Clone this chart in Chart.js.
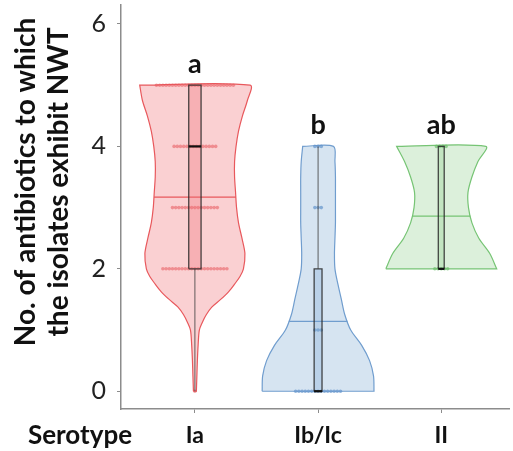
<!DOCTYPE html>
<html>
<head>
<meta charset="utf-8">
<script src="https://cdn.jsdelivr.net/npm/chart.js@4.4.1/dist/chart.umd.min.js"></script>
<style>
html,body{margin:0;padding:0;background:#fff;}
#wrap{width:513px;height:451px;position:relative;}
</style>
</head>
<body>
<div id="wrap"><canvas id="chart"></canvas></div>
<script>
const serotypes = ['Ia', 'Ib/Ic', 'II'];
const sigLetters = ['a', 'b', 'ab'];
const yTicks = [0, 2, 4, 6];

// violin outlines: half width (category units) at each level
const iaLevels = [0, 0.25, 0.5, 0.75, 1, 1.125, 1.25, 1.375, 1.5, 1.625, 1.75, 1.875, 2, 2.25, 2.5, 2.75, 3, 3.25, 3.5, 3.75, 4, 4.25, 4.5, 4.75, 5];
const iaHalfWidth = [0.012, 0.016, 0.02, 0.026, 0.036, 0.06, 0.092, 0.137, 0.209, 0.273, 0.322, 0.366, 0.394, 0.406, 0.382, 0.354, 0.338, 0.33, 0.322, 0.322, 0.334, 0.354, 0.386, 0.426, 0.448];
const ibLevels = [0, 0.25, 0.5, 0.75, 1, 1.25, 1.5, 1.75, 2, 2.25, 2.5, 2.75, 3, 3.25, 3.5, 3.75, 4];
const ibHalfWidth = [0.454, 0.45, 0.418, 0.354, 0.265, 0.217, 0.189, 0.161, 0.137, 0.133, 0.137, 0.141, 0.141, 0.141, 0.141, 0.137, 0.125];
const iiLevels = [2, 2.25, 2.5, 2.75, 3, 3.25, 3.5, 3.75, 4];
const iiHalfWidth = [0.45, 0.394, 0.305, 0.249, 0.221, 0.217, 0.249, 0.297, 0.362];

// box plot summary per serotype
const boxMin = [0, 0, 2];
const boxQ1 = [2, 0, 2];
const boxMedian = [4, 0, 2];
const boxQ3 = [5, 2, 4];
const boxMax = [5, 4, 4];
const groupMean = [3.17, 1.14, 2.86];

// individual isolates: value and how many isolates sit at it
const iaDotValues = [5, 4, 3, 2, 0];
const iaDotCounts = [25, 14, 15, 21, 1];
const ibDotValues = [4, 3, 1, 0];
const ibDotCounts = [3, 3, 3, 15];
const iiDotValues = [4, 2];
const iiDotCounts = [4, 5];

// styles
const fillColors = ['rgba(240,110,115,0.32)', 'rgba(120,165,210,0.30)', 'rgba(130,200,125,0.28)'];
const edgeColors = ['rgb(232,88,92)', 'rgb(112,157,206)', 'rgb(118,196,116)'];
const dotColors = ['rgba(232,88,92,0.55)', 'rgba(100,148,204,0.7)', 'rgba(110,190,108,0.7)'];
const boxHalf = [0.05, 0.032, 0.024];
const dotStep = 0.026;

const levelsAll = [iaLevels, ibLevels, iiLevels];
const widthsAll = [iaHalfWidth, ibHalfWidth, iiHalfWidth];
const dotValsAll = [iaDotValues, ibDotValues, iiDotValues];
const dotCntAll = [iaDotCounts, ibDotCounts, iiDotCounts];

function violinPoints(c, levels, hw){
  const n = levels.length;
  const left = levels.map((v,i)=>({x:c-hw[i], y:v}));
  const right = levels.map((v,i)=>({x:c+hw[i], y:v}));
  const pts = [left[0]];
  left.forEach(p=>pts.push(p));
  pts.push(left[n-1]);
  for(let i=n-1;i>=0;i--) pts.push(right[i]);
  pts.push(right[0]);
  pts.push(left[0]); pts.push(left[0]);
  return pts;
}
function widthAt(levels, hw, v){
  for(let i=0;i<levels.length-1;i++){
    if(v>=levels[i] && v<=levels[i+1]){
      const t=(v-levels[i])/(levels[i+1]-levels[i]);
      return hw[i]+t*(hw[i+1]-hw[i]);
    }
  }
  return 0;
}
function dotPoints(c, vals, counts){
  const pts=[];
  vals.forEach((v,i)=>{
    const n=counts[i];
    for(let k=0;k<n;k++) pts.push({x:c+(k-(n-1)/2)*dotStep, y:v});
  });
  return pts;
}
function seg(x1,y1,x2,y2){ return [{x:x1,y:y1},{x:x2,y:y2}]; }

const datasets=[];
serotypes.forEach((s,i)=>{
  datasets.push({data:violinPoints(i,levelsAll[i],widthsAll[i]), showLine:true, fill:'shape', tension:0.3,
    backgroundColor:fillColors[i], borderColor:edgeColors[i], borderWidth:1.2, pointRadius:0, order:6});
  datasets.push({data:dotPoints(i,dotValsAll[i],dotCntAll[i]), showLine:false, pointRadius:1.8,
    pointBackgroundColor:dotColors[i], pointBorderWidth:0, order:5});
  const mw=widthAt(levelsAll[i],widthsAll[i],groupMean[i]);
  datasets.push({data:seg(i-mw,groupMean[i],i+mw,groupMean[i]), showLine:true, borderColor:edgeColors[i],
    borderWidth:1.3, pointRadius:0, order:4});
  const b=boxHalf[i];
  datasets.push({data:[{x:i-b,y:boxQ1[i]},{x:i+b,y:boxQ1[i]},{x:i+b,y:boxQ3[i]},{x:i-b,y:boxQ3[i]},{x:i-b,y:boxQ1[i]}],
    showLine:true, fill:'shape', backgroundColor:fillColors[i], borderColor:'rgba(40,40,40,0.85)', borderWidth:1.3,
    pointRadius:0, order:3});
  if(boxQ1[i]>boxMin[i]) datasets.push({data:seg(i,boxMin[i],i,boxQ1[i]), showLine:true, borderColor:'rgba(60,60,60,0.8)', borderWidth:1, pointRadius:0, order:2});
  if(boxMax[i]>boxQ3[i]) datasets.push({data:seg(i,boxQ3[i],i,boxMax[i]), showLine:true, borderColor:'rgba(60,60,60,0.8)', borderWidth:1, pointRadius:0, order:2});
  datasets.push({data:seg(i-b,boxMedian[i],i+b,boxMedian[i]), showLine:true, borderColor:'#111', borderWidth:2.2, pointRadius:0, order:1});
});

const textPlugin={
  id:'textPlugin',
  afterDraw(chart){
    const {ctx}=chart, x=chart.scales.x, y=chart.scales.y;
    ctx.save();
    ctx.fillStyle='#111';
    ctx.font='bold 27px Lato';
    ctx.textAlign='center';
    ctx.textBaseline='alphabetic';
    sigLetters.forEach((t,i)=>{
      ctx.fillText(t, x.getPixelForValue(i), y.getPixelForValue(boxMax[i])-12);
    });
    ctx.font='bold 26px Lato';
    ctx.fillText('Serotype', 80, 444);
    ctx.translate(35,182);
    ctx.rotate(-Math.PI/2);
    ctx.font='bold 28px Lato';
    ctx.fillText('No. of antibiotics to which',0,0);
    ctx.fillText('the isolates exhibit NWT',0,33);
    ctx.restore();
  }
};

new Chart(document.getElementById('chart'),{
  type:'scatter',
  data:{datasets},
  options:{
    responsive:true, maintainAspectRatio:false, animation:false,
    layout:{padding:{top:5,right:0,left:0,bottom:0}},
    plugins:{legend:{display:false},tooltip:{enabled:false}},
    scales:{
      x:{type:'linear', min:-0.6, max:2.55,
        afterBuildTicks:s=>{s.ticks=serotypes.map((_,i)=>({value:i}));},
        afterFit:s=>{s.height=42; s.paddingLeft=0; s.paddingRight=0;},
        grid:{drawOnChartArea:false, tickLength:4, color:'#8c8c8c'},
        border:{color:'#8c8c8c', width:1.5},
        ticks:{callback:v=>serotypes[v], font:{family:'Lato', size:23, weight:'bold'}, color:'#111', padding:9, maxRotation:0}
      },
      y:{type:'linear', min:-0.29, max:6.31,
        afterBuildTicks:s=>{s.ticks=yTicks.map(v=>({value:v}));},
        afterFit:s=>{s.width=121; s.paddingTop=0; s.paddingBottom=0;},
        grid:{drawOnChartArea:false, tickLength:4, color:'#8c8c8c'},
        border:{color:'#8c8c8c', width:1.5},
        ticks:{font:{family:'Lato', size:25}, color:'#222', padding:11}
      }
    }
  },
  plugins:[textPlugin]
});
</script>
</body>
</html>
